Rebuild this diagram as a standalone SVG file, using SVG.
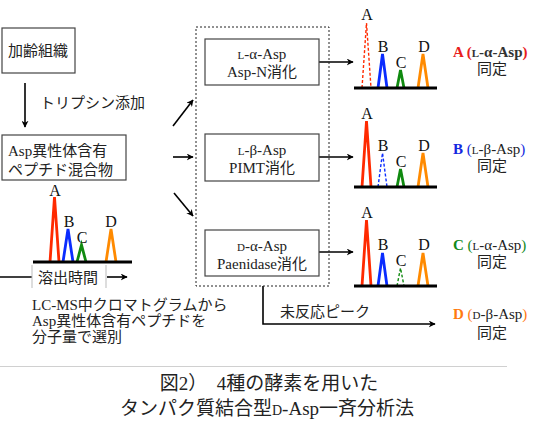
<svg xmlns="http://www.w3.org/2000/svg" width="550" height="423" viewBox="0 0 550 423">
<defs>
<marker id="ah" viewBox="0 0 10 10" refX="9" refY="5" markerWidth="7" markerHeight="7" markerUnits="userSpaceOnUse" orient="auto">
<path d="M0,0 L10,5 L0,10 L3,5 Z" fill="#000"/>
</marker>
<style>
text{font-family:"Liberation Serif","Noto Sans CJK JP",serif;fill:#222;}
.t15{font-size:15px;}
.sc{font-size:11px;}
.box{fill:#fff;stroke:#444;stroke-width:1.2;}
.arr{stroke:#000;stroke-width:1.6;fill:none;marker-end:url(#ah);}
.base{stroke:#000;stroke-width:3;}
.pk{fill:none;stroke-width:2.8;stroke-linejoin:miter;}
.r{stroke:#ff2a00;} .b{stroke:#0a2cff;} .g{stroke:#108a10;} .o{stroke:#ff8a00;}
.dash{stroke-dasharray:3,2;stroke-width:1.4;}
.pl{font-size:16px;fill:#111;text-anchor:middle;}
.lab{font-size:15px;}
.title{font-size:19px;text-anchor:middle;fill:#222;}
.mid{text-anchor:middle;}
</style>
</defs>

<g id="connectors">
<line class="arr" x1="25" y1="83" x2="25" y2="127"/>
<line class="arr" x1="173" y1="126" x2="193" y2="100"/>
<line class="arr" x1="173" y1="157" x2="193" y2="157"/>
<line class="arr" x1="174" y1="193" x2="193" y2="216"/>
<line class="arr" x1="319" y1="62" x2="353" y2="62"/>
<line class="arr" x1="319" y1="157" x2="353" y2="157"/>
<line class="arr" x1="319" y1="252" x2="353" y2="252"/>
<polyline class="arr" points="263,286 263,324 435,324"/>
<line stroke="#000" stroke-width="1.5" x1="0" y1="277" x2="32" y2="277"/>
<line class="arr" x1="107" y1="277" x2="127" y2="277"/>
</g>

<g id="label-trypsin"><text class="t15" x="40" y="108">トリプシン添加</text></g>
<g id="label-unreacted"><text class="t15" x="280" y="317">未反応ピーク</text></g>

<g id="node-tissue">
<rect class="box" x="2" y="28" width="73" height="45"/>
<text class="t15" x="8" y="56">加齢組織</text>
</g>

<g id="node-mixture">
<rect class="box" x="2" y="135" width="124" height="45"/>
<text class="t15" x="8" y="156">Asp異性体含有</text>
<text class="t15" x="8" y="175">ペプチド混合物</text>
</g>

<g id="chrom-left">
<polyline class="pk r" points="50,262 54.5,197 59,262"/>
<polyline class="pk b" points="63,262 68,229 73,262"/>
<polyline class="pk g" points="77,262 81.5,245 86,262"/>
<polyline class="pk o" points="106,262 111,229 116,262"/>
<line class="base" x1="33" y1="262" x2="132" y2="262"/>
<text class="pl" x="55" y="196">A</text>
<text class="pl" x="69" y="227">B</text>
<text class="pl" x="82" y="243">C</text>
<text class="pl" x="111" y="227">D</text>
</g>

<g id="node-elution">
<line stroke="#bbb" stroke-width="1" x1="32" y1="265" x2="32" y2="288"/>
<line stroke="#bbb" stroke-width="1" x1="106" y1="265" x2="106" y2="288"/>
<text class="t15" x="38" y="283">溶出時間</text>
</g>

<g id="label-lcms">
<text class="t15" x="32" y="310">LC-MS中クロマトグラムから</text>
<text class="t15" x="32" y="326">Asp異性体含有ペプチドを</text>
<text class="t15" x="32" y="342">分子量で選別</text>
</g>

<g id="group-enzymes">
<rect x="196" y="27" width="133" height="259" fill="none" stroke="#222" stroke-width="1" stroke-dasharray="2,2"/>
</g>

<g id="node-aspn">
<rect class="box" x="205" y="39" width="114" height="46"/>
<text class="t15 mid" x="262" y="59"><tspan class="sc">L</tspan>-α-Asp</text>
<text class="t15 mid" x="262" y="77">Asp-N消化</text>
</g>

<g id="node-pimt">
<rect class="box" x="205" y="134" width="114" height="47"/>
<text class="t15 mid" x="262" y="155"><tspan class="sc">L</tspan>-β-Asp</text>
<text class="t15 mid" x="262" y="173">PIMT消化</text>
</g>

<g id="node-paenidase">
<rect class="box" x="205" y="230" width="114" height="46"/>
<text class="t15 mid" x="262" y="251"><tspan class="sc">D</tspan>-α-Asp</text>
<text class="t15 mid" x="262" y="269">Paenidase消化</text>
</g>

<g id="chrom-1">
<polyline class="pk r dash" points="362,88 366.5,23 371,88"/>
<polyline class="pk b" points="378,88 382.5,54 387,88"/>
<polyline class="pk g" points="397,88 400.5,70 404,88"/>
<polyline class="pk o" points="418,88 423,54 428,88"/>
<line class="base" x1="354" y1="88" x2="437" y2="88"/>
<text class="pl" x="367" y="20">A</text>
<text class="pl" x="383" y="52">B</text>
<text class="pl" x="401" y="68">C</text>
<text class="pl" x="424" y="52">D</text>
</g>

<g id="chrom-2">
<polyline class="pk r" points="362,187 366.5,121 371,187"/>
<polyline class="pk b dash" points="378,187 382.5,153 387,187"/>
<polyline class="pk g" points="397,187 400.5,169 404,187"/>
<polyline class="pk o" points="418,187 423,153 428,187"/>
<line class="base" x1="354" y1="187" x2="437" y2="187"/>
<text class="pl" x="367" y="119">A</text>
<text class="pl" x="383" y="151">B</text>
<text class="pl" x="401" y="167">C</text>
<text class="pl" x="424" y="151">D</text>
</g>

<g id="chrom-3">
<polyline class="pk r" points="362,286 366.5,220 371,286"/>
<polyline class="pk b" points="378,286 382.5,253 387,286"/>
<polyline class="pk g dash" points="397,286 400.5,268 404,286"/>
<polyline class="pk o" points="418,286 423,253 428,286"/>
<line class="base" x1="354" y1="286" x2="437" y2="286"/>
<text class="pl" x="367" y="218">A</text>
<text class="pl" x="383" y="250">B</text>
<text class="pl" x="401" y="266">C</text>
<text class="pl" x="424" y="250">D</text>
</g>

<g id="result-a">
<text class="lab" x="453" y="57" font-weight="bold"><tspan fill="#e8201c">A (</tspan><tspan class="sc" fill="#333">L</tspan><tspan fill="#333">-α-Asp</tspan><tspan fill="#e8201c">)</tspan></text>
<text class="lab mid" x="492" y="74" fill="#333">同定</text>
</g>

<g id="result-b">
<text class="lab" x="453" y="154"><tspan fill="#1428e0" font-weight="bold">B</tspan><tspan fill="#1428e0"> (</tspan><tspan class="sc">L</tspan><tspan>-β-Asp</tspan><tspan fill="#1428e0">)</tspan></text>
<text class="lab mid" x="492" y="171">同定</text>
</g>

<g id="result-c">
<text class="lab" x="453" y="250"><tspan fill="#118a1a" font-weight="bold">C</tspan><tspan fill="#118a1a"> (</tspan><tspan class="sc">L</tspan><tspan>-α-Asp</tspan><tspan fill="#118a1a">)</tspan></text>
<text class="lab mid" x="492" y="267">同定</text>
</g>

<g id="result-d">
<text class="lab" x="453" y="319"><tspan fill="#ff7a10" font-weight="bold">D</tspan><tspan fill="#ff7a10"> (</tspan><tspan class="sc">D</tspan><tspan>-β-Asp</tspan><tspan fill="#ff7a10">)</tspan></text>
<text class="lab mid" x="492" y="338">同定</text>
</g>

<line x1="0" y1="366.5" x2="507" y2="366.5" stroke="#d0d0d0" stroke-width="1.2"/>

<g id="caption">
<text class="title" x="269" y="390">図2）　4種の酵素を用いた</text>
<text class="title" x="267" y="415">タンパク質結合型<tspan font-size="14px">D</tspan>-Asp一斉分析法</text>
</g>
</svg>
